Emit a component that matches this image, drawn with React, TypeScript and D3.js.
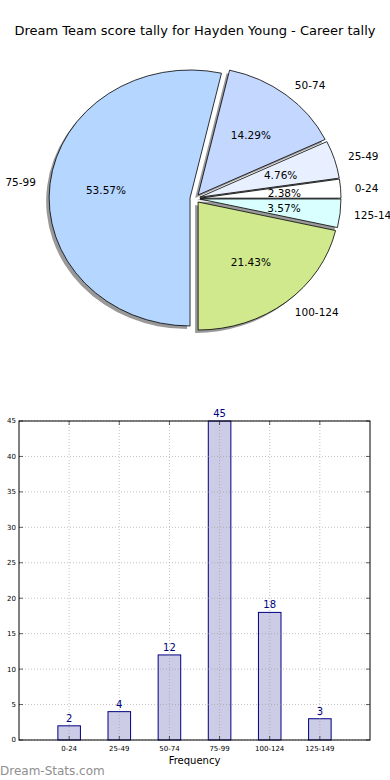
import React, { useEffect, useRef } from 'react';
import * as d3 from 'd3';

// Score ranges and how many games fell in each
const categories = ['0-24', '25-49', '50-74', '75-99', '100-124', '125-149'];
const counts = [2, 4, 12, 45, 18, 3];
const sliceColors = ['#ffffff', '#e8f0ff', '#c4d8ff', '#b5d6ff', '#d0e98c', '#d9ffff'];
const yTicks = [0, 5, 10, 15, 20, 25, 30, 35, 40, 45];

const App = () => {
  const svgRef = useRef<SVGSVGElement>(null);

  useEffect(() => {
    const svg = d3.select(svgRef.current);
    svg.selectAll('*').remove();

    const W = 390;
    const font = 'DejaVu Sans, sans-serif';

    // Title
    svg.append('text')
      .attr('x', W / 2)
      .attr('y', 35)
      .attr('text-anchor', 'middle')
      .style('font-family', font)
      .style('font-size', '13px')
      .text('Dream Team score tally for Hayden Young - Career tally');

    // ---- Pie (matplotlib style: starts at 3 o'clock, counter-clockwise, squashed) ----
    const cx = 195;
    const cy = 198.5;
    const rx = 141;
    const ry = 128;
    const ex = 5; // explode offset
    const ey = 4.5;
    const total = d3.sum(counts);

    const pie = d3.pie<number>()
      .sort(null)
      .startAngle(Math.PI / 2)
      .endAngle(Math.PI / 2 - 2 * Math.PI);
    const arcs = pie(counts);
    const arc = d3.arc<d3.PieArcDatum<number>>().innerRadius(0).outerRadius(1);

    const mid = (d: d3.PieArcDatum<number>) => (d.startAngle + d.endAngle) / 2;
    const offset = (d: d3.PieArcDatum<number>) => {
      const m = mid(d);
      return [cx + ex * Math.sin(m), cy - ey * Math.cos(m)];
    };

    const pieG = svg.append('g');

    // shadows behind every wedge
    pieG.selectAll('path.shadow')
      .data(arcs)
      .join('path')
      .attr('class', 'shadow')
      .attr('d', d => arc(d))
      .attr('transform', d => {
        const [ox, oy] = offset(d);
        return `translate(${ox - 3},${oy + 3}) scale(${rx},${ry})`;
      })
      .attr('fill', '#555')
      .attr('fill-opacity', 0.6);

    pieG.selectAll('path.wedge')
      .data(arcs)
      .join('path')
      .attr('class', 'wedge')
      .attr('d', d => arc(d))
      .attr('transform', d => {
        const [ox, oy] = offset(d);
        return `translate(${ox},${oy}) scale(${rx},${ry})`;
      })
      .attr('fill', (d, i) => sliceColors[i])
      .attr('stroke', '#000')
      .attr('stroke-width', 0.8)
      .attr('vector-effect', 'non-scaling-stroke');

    // outer labels at 1.1 radius
    pieG.selectAll('text.lbl')
      .data(arcs)
      .join('text')
      .attr('class', 'lbl')
      .attr('x', d => offset(d)[0] + 1.1 * rx * Math.sin(mid(d)))
      .attr('y', d => offset(d)[1] - 1.1 * ry * Math.cos(mid(d)))
      .attr('dy', '0.4em')
      .attr('text-anchor', d => (Math.sin(mid(d)) > 0 ? 'start' : 'end'))
      .style('font-family', font)
      .style('font-size', '10.5px')
      .text((d, i) => categories[i]);

    // percentages at 0.6 radius
    pieG.selectAll('text.pct')
      .data(arcs)
      .join('text')
      .attr('class', 'pct')
      .attr('x', d => offset(d)[0] + 0.6 * rx * Math.sin(mid(d)))
      .attr('y', d => offset(d)[1] - 0.6 * ry * Math.cos(mid(d)))
      .attr('dy', '0.4em')
      .attr('text-anchor', 'middle')
      .style('font-family', font)
      .style('font-size', '10.5px')
      .text(d => `${((d.data / total) * 100).toFixed(2)}%`);

    // ---- Bar chart ----
    const left = 19;
    const right = 370;
    const top = 421;
    const bottom = 740;

    const x = d3.scaleLinear().domain([-1, categories.length]).range([left, right]);
    const y = d3.scaleLinear().domain([0, 45]).range([bottom, top]);
    const barW = x(0.45) - x(0);

    const barG = svg.append('g');

    // bars (semi transparent navy, grid shows through)
    barG.selectAll('rect.bar')
      .data(counts)
      .join('rect')
      .attr('class', 'bar')
      .attr('x', (d, i) => x(i) - barW / 2)
      .attr('y', d => y(d))
      .attr('width', barW)
      .attr('height', d => y(0) - y(d))
      .attr('fill', '#000080')
      .attr('fill-opacity', 0.2)
      .attr('stroke', '#000080')
      .attr('stroke-width', 1);

    // grid lines
    barG.selectAll('line.hgrid')
      .data(yTicks)
      .join('line')
      .attr('class', 'hgrid')
      .attr('x1', left)
      .attr('x2', right)
      .attr('y1', d => y(d))
      .attr('y2', d => y(d))
      .attr('stroke', '#999')
      .attr('stroke-width', 0.6)
      .attr('stroke-dasharray', '1,2');

    barG.selectAll('line.vgrid')
      .data(categories)
      .join('line')
      .attr('class', 'vgrid')
      .attr('x1', (d, i) => x(i))
      .attr('x2', (d, i) => x(i))
      .attr('y1', top)
      .attr('y2', bottom)
      .attr('stroke', '#999')
      .attr('stroke-width', 0.6)
      .attr('stroke-dasharray', '1,2');

    // axes frame
    barG.append('rect')
      .attr('x', left)
      .attr('y', top)
      .attr('width', right - left)
      .attr('height', bottom - top)
      .attr('fill', 'none')
      .attr('stroke', '#000')
      .attr('stroke-width', 1);

    // inward tick marks on all four sides
    const tickLen = 4;
    yTicks.forEach(t => {
      barG.append('line').attr('x1', left).attr('x2', left + tickLen)
        .attr('y1', y(t)).attr('y2', y(t)).attr('stroke', '#000').attr('stroke-width', 0.6);
      barG.append('line').attr('x1', right).attr('x2', right - tickLen)
        .attr('y1', y(t)).attr('y2', y(t)).attr('stroke', '#000').attr('stroke-width', 0.6);
    });
    categories.forEach((c, i) => {
      barG.append('line').attr('x1', x(i)).attr('x2', x(i))
        .attr('y1', bottom).attr('y2', bottom - tickLen).attr('stroke', '#000').attr('stroke-width', 0.6);
      barG.append('line').attr('x1', x(i)).attr('x2', x(i))
        .attr('y1', top).attr('y2', top + tickLen).attr('stroke', '#000').attr('stroke-width', 0.6);
    });

    // y tick labels
    barG.selectAll('text.ytick')
      .data(yTicks)
      .join('text')
      .attr('class', 'ytick')
      .attr('x', left - 3)
      .attr('y', d => y(d))
      .attr('dy', '0.35em')
      .attr('text-anchor', 'end')
      .style('font-family', font)
      .style('font-size', '7px')
      .text(d => d);

    // x tick labels
    barG.selectAll('text.xtick')
      .data(categories)
      .join('text')
      .attr('class', 'xtick')
      .attr('x', (d, i) => x(i))
      .attr('y', bottom + 11)
      .attr('text-anchor', 'middle')
      .style('font-family', font)
      .style('font-size', '7px')
      .text(d => d);

    // value labels over bars
    barG.selectAll('text.val')
      .data(counts)
      .join('text')
      .attr('class', 'val')
      .attr('x', (d, i) => x(i))
      .attr('y', d => y(d) - 4)
      .attr('text-anchor', 'middle')
      .attr('fill', '#000080')
      .style('font-family', font)
      .style('font-size', '10px')
      .text(d => d);

    // x-axis label
    svg.append('text')
      .attr('x', (left + right) / 2)
      .attr('y', 764)
      .attr('text-anchor', 'middle')
      .style('font-family', font)
      .style('font-size', '10px')
      .text('Frequency');

    // watermark
    svg.append('text')
      .attr('x', 0)
      .attr('y', 775)
      .attr('fill', '#8f8f8f')
      .style('font-family', font)
      .style('font-size', '12px')
      .text('Dream-Stats.com');
  }, []);

  return (
    <svg
      ref={svgRef}
      width={390}
      height={780}
      style={{ position: 'absolute', left: 0, top: 0, background: '#fff' }}
    />
  );
};

export default App;
